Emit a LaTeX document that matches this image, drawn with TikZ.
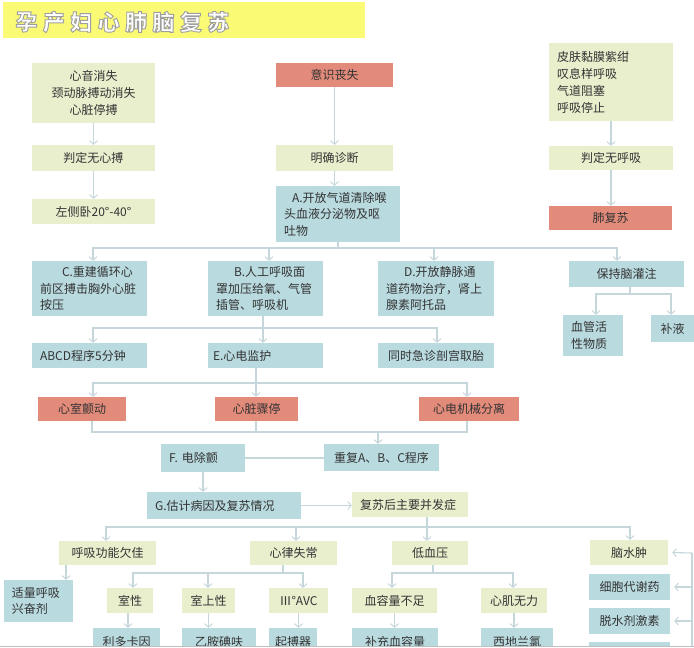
\documentclass[tikz,border=0pt]{standalone}
\usepackage{fontspec}
\newfontfamily\cjk{Noto Sans CJK SC}
\usetikzlibrary{arrows.meta}
\definecolor{cream}{HTML}{E9EECD}
\definecolor{tealb}{HTML}{B9DADF}
\definecolor{salmon}{HTML}{E38B7B}
\definecolor{lnc}{HTML}{C6D7DC}
\definecolor{txt}{HTML}{333333}
\definecolor{ttl}{HTML}{FAFA74}
\tikzset{
 box/.style={draw=none, inner ysep=0pt, font=\cjk\fontsize{12}{16.5}\selectfont, text=txt},
 ln/.style={draw=lnc, line width=1.1pt},
 arr/.style={ln, -{Straight Barb[length=3.5pt,width=8pt,line width=1pt]}},
}
\newcommand\lbox[7]{%
 \pgfmathsetmacro\bw{#4-#2-16}\pgfmathsetmacro\bh{#5-#3}%
 \pgfmathsetmacro\bcx{(#2+#4)/2}\pgfmathsetmacro\bcy{(#3+#5)/2}%
 \node[box, fill=#6, align=left, inner xsep=8pt, text width=\bw pt, minimum height=\bh pt] (#1) at (\bcx,\bcy) {#7};}
\newcommand\cbox[7]{%
 \pgfmathsetmacro\bw{#4-#2-2}\pgfmathsetmacro\bh{#5-#3}%
 \pgfmathsetmacro\bcx{(#2+#4)/2}\pgfmathsetmacro\bcy{(#3+#5)/2}%
 \node[box, fill=#6, align=center, inner xsep=1pt, text width=\bw pt, minimum height=\bh pt] (#1) at (\bcx,\bcy) {#7};}
\newcommand\outl[1]{\special{pdf:literal direct 2 Tr 0.9 w 0.62 0.62 0.62 RG}#1\special{pdf:literal direct 0 Tr}}
\begin{document}
\begin{tikzpicture}[x=1pt,y=-1pt]
\useasboundingbox (0,0) rectangle (694,648);
\fill[white] (0,0) rectangle (694,648);
\begin{scope}
\clip (0,0) rectangle (694,645);
% title
\fill[ttl] (3,2) rectangle (365,38);
\foreach \c [count=\i] in {孕,产,妇,心,肺,脑,复,苏} {
 \node[font=\cjk\bfseries\fontsize{22}{22}\selectfont, inner sep=0pt, text=white] (tt\i) at ({26.5+27.4*(\i-1)},22) {\outl{\c}};
}
% boxes
\cbox{n1}{32}{63}{155}{123}{cream}{\fontsize{12}{17}\selectfont 心音消失\\颈动脉搏动消失\\心脏停搏}
\cbox{n2}{32}{145}{155}{171}{cream}{判定无心搏}
\cbox{n3}{32}{199}{155}{224}{cream}{左侧卧20°-40°}
\cbox{yi}{276}{63}{393}{87}{salmon}{意识丧失}
\cbox{mq}{276}{145}{393}{171}{cream}{明确诊断}
\lbox{A}{276}{186}{400}{242}{tealb}{\hspace*{8pt}A.开放气道清除喉\\头血液分泌物及呕\\吐物}
\lbox{r1}{549}{43}{673}{121}{cream}{\fontsize{12}{17.3}\selectfont 皮肤黏膜紫绀\\叹息样呼吸\\气道阻塞\\呼吸停止}
\cbox{r2}{549}{146}{673}{170}{cream}{判定无呼吸}
\cbox{fu}{549}{206}{672}{230}{salmon}{肺复苏}
\lbox{C}{32}{261}{147}{316}{tealb}{\hspace*{22pt}C.重建循环心\\前区搏击胸外心脏\\按压}
\lbox{B}{208}{261}{323}{316}{tealb}{\hspace*{18pt}B.人工呼吸面\\罩加压给氧、气管\\插管、呼吸机}
\lbox{D}{378}{261}{494}{316}{tealb}{\hspace*{18pt}D.开放静脉通\\道药物治疗，肾上\\腺素阿托品}
\cbox{P}{569}{261}{684}{287}{tealb}{保持脑灌注}
\lbox{P1}{563}{315}{623}{356}{tealb}{血管活\\性物质}
\cbox{P2}{651}{315}{694}{342}{tealb}{补液}
\lbox{abcd}{32}{343}{147}{368}{tealb}{ABCD程序5分钟}
\lbox{E}{208}{343}{323}{368}{tealb}{\hspace*{-3pt}E.心电监护}
\cbox{tq}{378}{343}{494}{368}{tealb}{同时急诊剖宫取胎}
\cbox{vf}{38}{397}{126}{421}{salmon}{心室颤动}
\cbox{ca}{215}{397}{298}{421}{salmon}{心脏骤停}
\cbox{emd}{419}{397}{519}{421}{salmon}{心电机械分离}
\lbox{F}{161}{444}{245}{472}{tealb}{F.\ 电除颤}
\cbox{R}{324}{444}{439}{471}{tealb}{重复A、B、C程序}
\lbox{G}{147}{492}{301}{519}{tealb}{G.估计病因及复苏情况}
\lbox{g2}{352}{492}{468}{517}{cream}{复苏后主要并发症}
\cbox{h1}{59}{541}{156}{565}{cream}{呼吸功能欠佳}
\cbox{h2}{250}{541}{337}{565}{cream}{心律失常}
\cbox{h3}{392}{541}{468}{565}{cream}{低血压}
\cbox{h4}{590}{540}{668}{565}{cream}{脑水肿}
\lbox{sl}{4}{580}{73}{622}{tealb}{适量呼吸\\兴奋剂}
\cbox{k1}{107}{588}{153}{613}{cream}{室性}
\cbox{k2}{182}{588}{235}{613}{cream}{室上性}
\cbox{k3}{269}{588}{328}{613}{cream}{Ⅲ°AVC}
\cbox{m1}{352}{588}{437}{613}{cream}{血容量不足}
\cbox{m2}{481}{588}{547}{613}{cream}{心肌无力}
\cbox{ld}{93}{628}{160}{655}{tealb}{利多卡因}
\cbox{yb}{182}{628}{256}{655}{tealb}{乙胺碘呋}
\cbox{qb}{269}{628}{317}{655}{tealb}{起搏器}
\cbox{bc}{352}{628}{438}{655}{tealb}{补充血容量}
\cbox{xd}{481}{628}{553}{655}{tealb}{西地兰氯}
\cbox{cb}{589}{574}{670}{600}{tealb}{细胞代谢药}
\cbox{tsd}{589}{608}{670}{634}{tealb}{脱水剂激素}
\cbox{ex}{589}{642}{670}{668}{tealb}{}
% connectors top
\draw[arr] (n1.south) -- (n2.north);
\draw[arr] (n2.south) -- (n3.north);
\draw[arr] (yi.south) -- (mq.north);
\draw[arr] (mq.south) -- (mq.south |- A.north);
\draw[arr] (r1.south) -- (r2.north);
\draw[arr] (r2.south) -- (r2.south |- fu.north);
% bus A
\coordinate (bA) at (338,248);
\draw[ln] (A.south) -- (bA);
\draw[arr] (bA) -| ([xshift=3.5]C.north);
\draw[arr] (bA) -| ([xshift=3.5]B.north);
\draw[arr] (bA) -| ([xshift=-2]D.north);
\draw[arr] (bA) -| ([xshift=-9.5]P.north);
% P
\coordinate (bP) at (630,294);
\draw[ln] ([xshift=3.5]P.south) -- (bP);
\draw[arr] (bP) -| ([xshift=3]P1.north);
\draw[arr] (bP) -| ([xshift=-1.5]P2.north);
% bus B
\coordinate (bB) at (263,328);
\draw[ln] ([xshift=-2.5]B.south) -- (bB);
\draw[arr] (bB) -| ([xshift=3.5]abcd.north);
\draw[arr] (bB) -- ([xshift=-2.5]E.north);
\draw[arr] (bB) -| ([xshift=1]tq.north);
% bus E
\coordinate (bE) at (256,383);
\draw[ln] ([xshift=-9.5]E.south) -- (bE);
\draw[arr] (bE) -| ([xshift=11]vf.north);
\draw[arr] (bE) -- ([xshift=-0.5]ca.north);
\draw[arr] (bE) -| ([xshift=-2]emd.north);
% bus 4
\coordinate (b4) at (378,432);
\draw[ln] ([xshift=10]vf.south) |- (b4);
\draw[ln] ([xshift=-0.5]ca.south) |- (b4);
\draw[ln] ([xshift=-2]emd.south) |- (b4);
\draw[arr] (b4) -- ([xshift=-3.5]R.north);
\draw[ln] (F.east) -- (F.east -| R.west);
\draw[arr] (F.south) -- (F.south |- G.north);
\draw[arr] (G.east) -- (G.east -| g2.west);
% bus 5
\coordinate (b5) at (427,527);
\draw[ln] ([xshift=17]g2.south) -- (b5);
\draw[arr] (b5) -| ([xshift=-1.5]h1.north);
\draw[arr] (b5) -| ([xshift=2.5]h2.north);
\draw[arr] (b5) -- ([xshift=-3]h3.north);
\draw[arr] (b5) -| ([xshift=1]h4.north);
\draw[arr] ([xshift=-41.5]h1.south) -- ([xshift=27.5]sl.north);
% bus 6
\coordinate (b6) at (283,573);
\draw[ln] ([xshift=-10.5]h2.south) -- (b6);
\draw[arr] (b6) -| ([xshift=3]k1.north);
\draw[arr] (b6) -| ([xshift=-0.5]k2.north);
\draw[arr] (b6) -| ([xshift=4.5]k3.north);
\draw[arr] ([xshift=-2]k1.south) -- ([xshift=1.5]ld.north);
\draw[arr] (k2.south) -- (k2.south |- yb.north);
\draw[arr] (k3.south) -- (k3.south |- qb.north);
% bus 7
\coordinate (b7) at (433,573);
\draw[ln] ([xshift=3]h3.south) -- (b7);
\draw[arr] (b7) -| ([xshift=-2.5]m1.north);
\draw[arr] (b7) -| ([xshift=-1]m2.north);
\draw[arr] (m1.south) -- (m1.south |- bc.north);
\draw[arr] (m2.south) -- (m2.south |- xd.north);
% right side
\coordinate (rv) at (692,553);
\coordinate (rvb) at (692,670);
\draw[ln] (rv) -- (rvb);
\draw[arr] (rv) -- ([xshift=4]h4.east);
\draw[arr] (rv |- cb.east) -- ([xshift=4]cb.east);
\draw[arr] (rv |- tsd.east) -- ([xshift=4]tsd.east);
\draw[arr] (rv |- ex.east) -- ([xshift=4]ex.east);
\end{scope}
\draw[black!25, line width=1pt] (0,646) -- (694,646);
\end{tikzpicture}
\end{document}
